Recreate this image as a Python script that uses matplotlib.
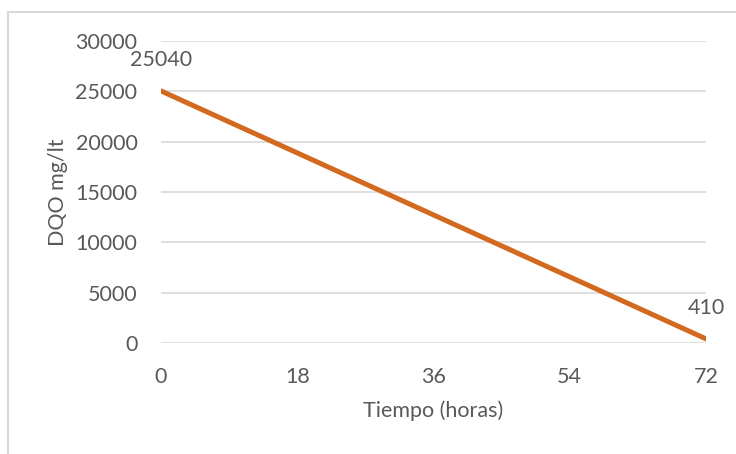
import matplotlib.pyplot as plt
from matplotlib.patches import Rectangle

plt.rcParams["font.family"] = ["Lato", "DejaVu Sans"]

tiempo = [0, 72]
dqo = [25040, 410]
x_ticks = [0, 18, 36, 54, 72]
y_ticks = [0, 5000, 10000, 15000, 20000, 25000, 30000]

text_color = "#595959"
line_color = "#D2691E"
fs = 15.5

fig = plt.figure(figsize=(7.36, 4.54), dpi=100)
ax = fig.add_axes([161 / 736, 1 - 343 / 454, 545 / 736, 302 / 454])

# chart border, cut off by the image on the right and bottom
fig.patches.append(Rectangle((8 / 736, -0.1), 1.2, 1 - 12 / 454 + 0.1,
                             transform=fig.transFigure, fill=False,
                             edgecolor="#d9d9d9", linewidth=1.5))

ax.plot(tiempo, dqo, color=line_color, linewidth=3.6, solid_capstyle="round", zorder=3)
for x, y in zip(tiempo, dqo):
    ax.annotate(str(y), (x, y), xytext=(0, 22), textcoords="offset points",
                ha="center", va="center", fontsize=fs, color=text_color)

ax.set_xlim(0, 72)
ax.set_ylim(0, 30000)
ax.set_xticks(x_ticks)
ax.set_yticks(y_ticks)
ax.grid(axis="y", color="#d9d9d9", linewidth=1.2)
ax.set_axisbelow(True)
for side in ax.spines.values():
    side.set_visible(False)
ax.tick_params(length=0, labelsize=fs, labelcolor=text_color)
ax.tick_params(axis="x", pad=17)
ax.tick_params(axis="y", pad=17)

ax.set_xlabel("Tiempo (horas)", fontsize=fs, color=text_color, labelpad=10)
ax.set_ylabel("DQO mg/lt", fontsize=fs, color=text_color, labelpad=5)

fig.savefig("out.png", dpi=100)
